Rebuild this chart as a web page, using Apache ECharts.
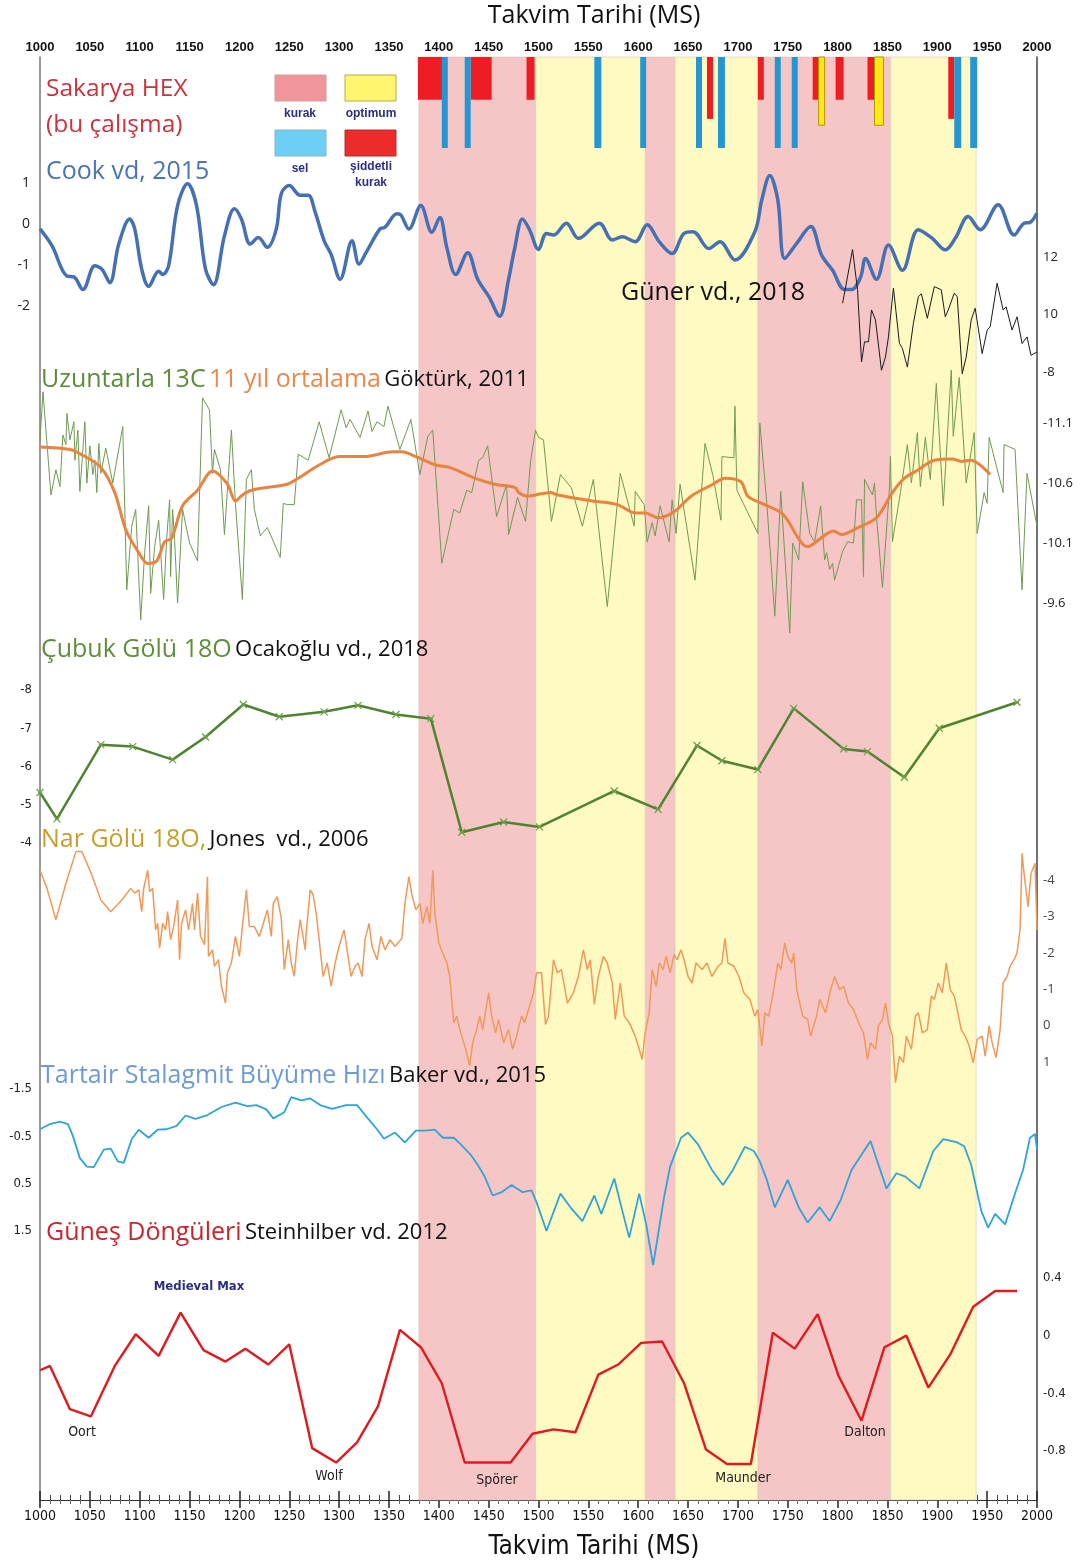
<!DOCTYPE html>
<html>
<head>
<meta charset="utf-8">
<title>Sakarya HEX</title>
<script src="https://cdn.jsdelivr.net/npm/echarts@6/dist/echarts.min.js"></script>
<style>
  html, body { margin: 0; padding: 0; background: #fff; }
  #chart { width: 1086px; height: 1565px; }
</style>
</head>
<body>
<div id="chart"></div>
<script>
// --- bantlar (kurak / optimum donemler) ---
var dryBands = [[1380, 1497], [1607, 1637], [1720, 1853]];
var optimumBands = [[1497, 1607], [1637, 1720], [1853, 1939]];

// --- Sakarya HEX olaylari: [baslangic, bitis, uzunluk] ---
var hexSevere = [[1379, 1404, 47], [1432, 1453, 47], [1488, 1496, 47], [1669, 1675, 68], [1720, 1726, 47],
  [1775, 1781, 47], [1798, 1806, 47], [1830, 1837, 47], [1911, 1917, 68]];
var hexOptimum = [[1781, 1787, 75], [1837, 1846, 75]];
var hexFlood = [[1403, 1409, 100], [1426, 1432, 100], [1556, 1563, 100], [1602, 1608, 100], [1658, 1664, 100],
  [1680, 1687, 100], [1737, 1743, 100], [1754, 1760, 100], [1917, 1924, 100], [1933, 1940, 100]];

// --- Cook vd, 2015 ---
var cookData = [[1000,-0.12],[1012,-0.53],[1027,-1.27],[1034,-1.29],[1043,-1.6],[1055,-1.02],[1062,-1.1],[1070,-1.43],
  [1079,-0.49],[1090,0.12],[1095,-0.12],[1102,-1.1],[1109,-1.52],[1119,-1.15],[1123,-1.23],[1129,-1.02],[1138,0.45],
  [1148,0.98],[1157,0.45],[1166,-1.1],[1174,-1.48],[1185,-0.29],[1195,0.37],[1202,0.12],[1211,-0.49],[1219,-0.33],
  [1228,-0.57],[1237,-0.12],[1242,0.74],[1250,0.94],[1261,0.7],[1269,0.7],[1276,0.29],[1285,-0.41],[1292,-0.74],
  [1301,-1.35],[1313,-0.41],[1320,-0.98],[1327,-0.7],[1341,-0.12],[1346,-0.08],[1358,0.25],[1362,0.22],[1370,-0.12],
  [1382,0.45],[1393,-0.2],[1401,0.16],[1408,-0.57],[1417,-1.23],[1429,-0.7],[1439,-1.35],[1450,-1.76],[1461,-2.25],
  [1470,-1.35],[1476,-0.61],[1484,0.12],[1491,-0.14],[1500,-0.62],[1508,-0.23],[1515,-0.27],[1528,0.02],[1540,-0.35],
  [1561,0.02],[1574,-0.39],[1584,-0.31],[1597,-0.43],[1609,-0.02],[1621,-0.43],[1634,-0.72],[1646,-0.23],[1655,-0.19],
  [1671,-0.6],[1682,-0.43],[1697,-0.88],[1717,-0.19],[1724,0.59],[1732,1.18],[1740,0.59],[1747,-0.84],[1759,-0.47],
  [1773,-0.06],[1784,-0.76],[1795,-1.13],[1807,-1.6],[1814,-1.6],[1823,-1.3],[1828,-0.84],[1839,-1.35],[1851,-0.51],
  [1865,-1.13],[1881,-0.14],[1895,-0.35],[1908,-0.63],[1918,-0.35],[1931,0.18],[1943,-0.14],[1961,0.47],[1977,-0.27],
  [1987,0.02],[1993,0.04],[2000,0.27]];

// --- Guner vd., 2018 ---
var gunerData = [[1805,10.39],[1815,12.26],[1820,10.86],[1824,8.35],[1827,9.05],[1831,9.05],[1834,10.16],[1838,9.81],
  [1844,8.06],[1848,8.52],[1851,9.22],[1856,10.92],[1862,9.0],[1865,8.82],[1870,8.17],[1876,9.69],[1881,10.62],
  [1884,10.72],[1890,9.87],[1897,10.97],[1904,10.86],[1908,9.92],[1911,10.16],[1917,10.74],[1920,10.62],[1925,7.94],
  [1929,8.52],[1934,9.81],[1938,10.22],[1945,8.64],[1950,9.46],[1953,9.57],[1960,11.09],[1966,10.16],[1969,10.27],
  [1975,9.46],[1980,9.92],[1985,8.99],[1990,9.22],[1994,8.58],[2000,8.7]];
var gunerTicks = [8, 10, 12];

// --- Uzuntarla 13C (Gokturk, 2011) ---
var uzunData = [[1000,-10.96],[1003,-11.36],[1011,-10.50],[1016,-10.71],[1020,-10.57],[1023,-11.0],[1026,-10.92],
  [1027,-11.18],[1030,-10.96],[1034,-11.11],[1035,-10.79],[1038,-11.04],[1040,-10.53],[1045,-11.11],[1047,-10.6],
  [1050,-10.91],[1053,-10.67],[1055,-10.79],[1057,-10.52],[1059,-10.93],[1061,-10.68],[1066,-10.89],[1073,-10.6],
  [1083,-11.07],[1087,-9.71],[1092,-10.24],[1096,-10.38],[1101,-9.46],[1105,-10.02],[1109,-10.41],[1111,-9.68],
  [1115,-10.07],[1119,-10.29],[1124,-9.63],[1127,-10.13],[1130,-10.46],[1131,-9.82],[1133,-10.38],[1135,-10.13],
  [1138,-9.6],[1143,-10.38],[1150,-10.1],[1158,-9.95],[1163,-11.31],[1170,-11.21],[1173,-10.68],[1175,-10.88],
  [1181,-10.71],[1185,-10.17],[1192,-11.04],[1196,-10.43],[1203,-9.63],[1207,-10.63],[1212,-10.71],[1215,-10.38],
  [1221,-10.16],[1228,-10.23],[1241,-9.98],[1244,-10.43],[1248,-10.42],[1255,-10.42],[1259,-10.84],[1269,-10.79],
  [1280,-11.11],[1290,-10.81],[1302,-11.21],[1307,-11.06],[1311,-11.13],[1321,-10.98],[1329,-11.2],[1333,-11.03],
  [1338,-11.11],[1345,-11.07],[1349,-11.24],[1361,-10.88],[1372,-11.13],[1381,-10.67],[1389,-10.99],[1394,-11.04],
  [1403,-9.93],[1415,-10.38],[1421,-10.35],[1428,-10.54],[1433,-10.52],[1440,-10.79],[1444,-10.81],[1449,-10.91],
  [1458,-10.32],[1468,-10.59],[1470,-10.17],[1479,-10.48],[1487,-10.28],[1492,-10.78],[1497,-11.04],[1500,-10.98],
  [1505,-10.96],[1513,-10.28],[1522,-10.67],[1533,-10.56],[1544,-10.24],[1555,-10.63],[1569,-9.57],[1582,-10.68],
  [1596,-10.24],[1597,-10.53],[1606,-10.42],[1609,-10.11],[1614,-10.27],[1617,-10.16],[1622,-10.41],[1631,-10.11],
  [1634,-10.46],[1638,-10.18],[1642,-10.59],[1657,-9.79],[1667,-10.93],[1675,-10.66],[1683,-10.29],[1684,-10.82],
  [1696,-10.81],[1697,-11.24],[1699,-10.54],[1720,-10.18],[1722,-11.1],[1729,-10.43],[1737,-9.49],[1743,-10.53],
  [1752,-9.35],[1755,-10.1],[1761,-9.96],[1765,-10.61],[1772,-10.18],[1777,-10.11],[1783,-10.41],[1787,-9.96],
  [1789,-10.02],[1792,-9.88],[1795,-9.93],[1797,-9.79],[1805,-10.03],[1810,-10.11],[1816,-10.1],[1819,-10.46],
  [1824,-10.46],[1826,-9.82],[1827,-10.63],[1835,-10.5],[1837,-10.6],[1839,-10.32],[1845,-9.73],[1852,-10.56],
  [1853,-10.82],[1855,-10.11],[1863,-10.52],[1870,-10.92],[1874,-10.6],[1880,-11.02],[1883,-10.57],[1888,-10.98],
  [1893,-10.63],[1899,-11.43],[1906,-10.41],[1914,-11.54],[1916,-10.99],[1922,-11.48],[1929,-10.6],[1937,-11.02],
  [1940,-10.18],[1947,-10.52],[1950,-10.43],[1952,-10.98],[1966,-10.52],[1967,-10.92],[1978,-10.88],[1985,-9.71],
  [1990,-10.68],[2000,-10.24]];
var uzunMean = [[1000,-10.90],[1030,-10.88],[1041,-10.84],[1061,-10.73],[1075,-10.52],[1086,-10.21],[1099,-10.02],
  [1108,-9.93],[1117,-9.95],[1125,-10.11],[1132,-10.14],[1143,-10.41],[1158,-10.54],[1173,-10.70],[1188,-10.59],
  [1196,-10.45],[1203,-10.5],[1212,-10.54],[1248,-10.59],[1259,-10.64],[1280,-10.75],[1300,-10.82],[1325,-10.82],
  [1354,-10.86],[1363,-10.86],[1377,-10.82],[1397,-10.75],[1411,-10.73],[1436,-10.64],[1456,-10.59],[1477,-10.56],
  [1480,-10.52],[1489,-10.49],[1503,-10.51],[1512,-10.52],[1519,-10.5],[1554,-10.45],[1579,-10.42],[1597,-10.35],
  [1607,-10.35],[1620,-10.31],[1636,-10.36],[1653,-10.49],[1675,-10.59],[1687,-10.64],[1703,-10.61],[1710,-10.49],
  [1724,-10.43],[1745,-10.34],[1770,-10.07],[1788,-10.17],[1796,-10.2],[1804,-10.17],[1821,-10.23],[1839,-10.31],
  [1855,-10.52],[1867,-10.64],[1879,-10.7],[1897,-10.79],[1915,-10.8],[1924,-10.78],[1934,-10.79],[1953,-10.67]];
var uzunTicks = [-11.1, -10.6, -10.1, -9.6];

// --- Cubuk Golu 18O (Ocakoglu vd., 2018) ---
var cubukData = [[1000,-5.32],[1017,-4.63],[1061,-6.57],[1093,-6.52],[1133,-6.18],[1166,-6.77],[1204,-7.62],
  [1240,-7.30],[1285,-7.43],[1319,-7.60],[1357,-7.36],[1392,-7.25],[1423,-4.28],[1465,-4.55],[1501,-4.42],
  [1576,-5.36],[1620,-4.88],[1659,-6.55],[1684,-6.15],[1720,-5.92],[1756,-7.52],[1806,-6.46],[1830,-6.39],
  [1867,-5.72],[1902,-7.0],[1980,-7.68]];

// --- Nar Golu 18O (Jones vd., 2006) ---
var narData = [[1000,-4.27],[1007,-3.77],[1016,-2.91],[1026,-3.91],[1036,-4.78],[1042,-4.78],[1052,-4.14],[1061,-3.45],
  [1071,-3.13],[1082,-3.45],[1091,-3.77],[1095,-3.64],[1099,-3.73],[1102,-3.13],[1104,-3.77],[1108,-4.27],[1110,-3.68],
  [1113,-3.77],[1116,-2.63],[1118,-2.81],[1120,-2.13],[1123,-2.81],[1126,-2.63],[1128,-3.13],[1131,-2.36],[1134,-2.72],
  [1138,-3.45],[1140,-1.81],[1142,-2.81],[1146,-3.18],[1149,-2.63],[1153,-3.36],[1155,-2.63],[1158,-3.64],[1161,-2.45],
  [1165,-2.22],[1168,-4.09],[1169,-1.90],[1173,-2.08],[1175,-1.63],[1179,-1.81],[1182,-1.08],[1186,-0.62],[1188,-1.45],
  [1192,-1.72],[1196,-2.45],[1200,-1.90],[1203,-2.72],[1207,-3.73],[1210,-2.72],[1215,-2.72],[1220,-2.45],[1224,-2.81],
  [1228,-3.18],[1232,-2.45],[1234,-3.36],[1238,-3.54],[1242,-2.95],[1245,-1.54],[1249,-2.36],[1252,-1.72],[1255,-1.35],
  [1258,-2.27],[1261,-2.91],[1266,-2.08],[1267,-2.54],[1271,-3.73],[1274,-3.59],[1277,-3.09],[1280,-2.36],[1284,-1.35],
  [1288,-1.72],[1292,-1.08],[1296,-1.72],[1300,-2.18],[1305,-2.63],[1308,-2.08],[1312,-1.35],[1316,-1.63],[1319,-1.72],
  [1323,-1.35],[1326,-2.36],[1330,-2.81],[1333,-2.18],[1338,-1.81],[1342,-2.45],[1346,-2.08],[1351,-2.36],[1356,-2.18],
  [1359,-2.27],[1363,-2.40],[1366,-3.36],[1370,-4.09],[1373,-3.59],[1377,-3.18],[1381,-3.36],[1384,-2.81],[1388,-3.27],
  [1391,-2.81],[1394,-4.27],[1396,-3.09],[1400,-2.27],[1404,-1.99],[1408,-1.72],[1411,-1.35],[1415,-0.08],[1418,-0.26],
  [1422,0.20],[1427,0.65],[1431,1.11],[1434,0.47],[1438,0.11],[1441,-0.26],[1444,0.11],[1450,-0.90],[1453,-0.26],
  [1457,0.20],[1460,-0.17],[1465,0.47],[1470,0.11],[1474,0.65],[1478,0.29],[1483,-0.26],[1486,-0.08],[1490,-0.44],
  [1495,-0.90],[1498,-1.45],[1503,-1.45],[1507,-0.03],[1510,-0.26],[1515,-1.81],[1519,-1.45],[1523,-1.54],[1526,-1.08],
  [1529,-0.62],[1535,-0.90],[1540,-1.35],[1545,-2.08],[1549,-1.54],[1552,-1.81],[1556,-0.58],[1560,-1.35],[1565,-1.90],
  [1569,-1.72],[1574,-1.17],[1577,-0.17],[1582,-1.17],[1586,-0.26],[1591,-0.08],[1597,0.29],[1601,0.65],[1604,0.93],
  [1607,0.20],[1611,-0.35],[1614,-1.54],[1618,-1.08],[1621,-1.72],[1625,-1.54],[1628,-1.90],[1632,-1.45],[1636,-1.95],
  [1639,-1.81],[1643,-2.08],[1646,-1.81],[1650,-1.35],[1654,-1.17],[1658,-1.72],[1664,-1.54],[1669,-1.72],[1674,-1.35],
  [1680,-1.63],[1684,-1.72],[1687,-2.40],[1690,-1.72],[1696,-1.63],[1701,-1.35],[1706,-0.90],[1712,-0.72],[1717,-0.26],
  [1720,-0.44],[1724,0.56],[1727,-0.35],[1731,-0.26],[1736,-0.99],[1740,-1.72],[1743,-1.54],[1747,-2.27],[1750,-1.90],
  [1754,-1.72],[1756,-1.99],[1759,-0.99],[1765,-0.26],[1770,-0.17],[1773,0.29],[1779,-0.26],[1782,-0.72],[1788,-0.35],
  [1793,-0.99],[1797,-1.35],[1802,-0.99],[1806,-1.08],[1811,-0.62],[1816,-0.44],[1821,-0.08],[1826,0.20],[1830,0.93],
  [1833,0.47],[1838,0.65],[1841,0.01],[1845,-0.17],[1848,-0.62],[1851,-0.08],[1855,0.29],[1858,1.57],[1862,0.84],
  [1866,1.02],[1869,0.29],[1874,0.65],[1878,-0.26],[1881,-0.35],[1885,0.20],[1890,0.11],[1894,-0.81],[1897,-0.72],
  [1901,-1.17],[1905,-0.90],[1909,-1.72],[1913,-0.99],[1917,-0.81],[1920,-0.44],[1924,0.11],[1928,0.29],[1932,0.56],
  [1936,1.02],[1940,0.38],[1945,0.29],[1948,0.84],[1952,0.01],[1955,0.47],[1959,0.88],[1963,0.11],[1966,-1.17],
  [1970,-1.35],[1973,-1.63],[1977,-1.81],[1980,-2.00],[1983,-2.63],[1985,-4.73],[1987,-4.18],[1991,-3.27],[1994,-4.18],
  [1998,-4.46],[2000,-2.63]];

// --- Tartair stalagmit (Baker vd., 2015) ---
var tartairData = [[1000,-0.65],[1010,-0.76],[1020,-0.81],[1028,-0.76],[1033,-0.51],[1040,-0.04],[1047,0.14],[1054,0.15],
  [1064,-0.22],[1071,-0.24],[1078,0.03],[1084,0.06],[1092,-0.44],[1099,-0.64],[1109,-0.47],[1118,-0.64],[1127,-0.65],
  [1137,-0.72],[1146,-0.94],[1156,-0.87],[1168,-0.95],[1182,-1.12],[1196,-1.21],[1208,-1.14],[1217,-1.16],[1227,-1.07],
  [1234,-0.88],[1245,-1.01],[1252,-1.33],[1262,-1.26],[1271,-1.30],[1281,-1.16],[1293,-1.08],[1307,-1.16],[1318,-1.16],
  [1328,-0.90],[1338,-0.65],[1345,-0.45],[1356,-0.58],[1366,-0.37],[1377,-0.62],[1387,-0.62],[1396,-0.64],[1404,-0.47],
  [1415,-0.47],[1422,-0.33],[1432,-0.11],[1439,0.10],[1446,0.35],[1454,0.75],[1463,0.68],[1473,0.53],[1484,0.68],
  [1493,0.64],[1498,0.89],[1508,1.50],[1522,0.71],[1532,1.0],[1544,1.29],[1556,0.75],[1563,1.14],[1576,0.39],[1584,1.07],
  [1591,1.64],[1601,0.71],[1608,1.36],[1615,2.22],[1626,0.78],[1632,0.14],[1643,-0.47],[1650,-0.58],[1660,-0.33],
  [1674,0.21],[1685,0.53],[1695,0.21],[1707,-0.28],[1716,-0.19],[1722,0.03],[1729,0.42],[1737,1.0],[1750,0.42],[1761,1.0],
  [1770,1.32],[1782,1.0],[1792,1.29],[1803,0.85],[1814,0.21],[1833,-0.40],[1841,0.10],[1849,0.60],[1859,0.28],[1868,0.35],
  [1882,0.60],[1896,-0.19],[1906,-0.44],[1920,-0.37],[1927,-0.29],[1934,0.10],[1944,1.07],[1951,1.43],[1958,1.14],
  [1968,1.36],[1979,0.64],[1986,0.21],[1993,-0.47],[1998,-0.55],[2000,-0.22]];
var tartairTicks = [-1.5, -0.5, 0.5, 1.5];

// --- Gunes donguleri (Steinhilber vd. 2012) ---
var solarData = [[1000,-0.24],[1010,-0.21],[1030,-0.51],[1051,-0.56],[1075,-0.21],[1096,0.01],[1119,-0.14],[1141,0.16],
  [1164,-0.10],[1186,-0.18],[1206,-0.09],[1229,-0.20],[1250,-0.06],[1273,-0.78],[1297,-0.88],[1318,-0.74],[1339,-0.49],
  [1361,0.04],[1382,-0.08],[1403,-0.33],[1426,-0.88],[1472,-0.88],[1494,-0.68],[1515,-0.65],[1537,-0.67],[1560,-0.27],
  [1580,-0.20],[1603,-0.05],[1624,-0.04],[1646,-0.33],[1668,-0.79],[1689,-0.89],[1713,-0.89],[1735,0.02],[1757,-0.09],
  [1780,0.15],[1801,-0.28],[1824,-0.59],[1847,-0.08],[1869,0],[1891,-0.36],[1913,-0.13],[1936,0.20],[1958,0.31],[1980,0.31]];

// minimumlar
var solarMinima = [['Oort', 82, 1432], ['Wolf', 329, 1476], ['Sp\u00f6rer', 497, 1480], ['Maunder', 743, 1478], ['Dalton', 865, 1432]];

var chart = echarts.init(document.getElementById('chart'));

var LEFT = 40, RIGHT = 49;
var fontBody = '"Open Sans", "Noto Sans", sans-serif';
var fontAxis = '"Liberation Sans", Arial, sans-serif';
var fontNarrow = '"Liberation Sans Narrow", "DejaVu Sans Condensed", Arial, sans-serif';

// panel yerlesimi: [top, height]
var panels = [
  [57, 1443],   // 0 cerceve
  [57, 91],     // 1 HEX
  [183, 123],   // 2 Cook
  [257, 115],   // 3 Guner
  [423, 180],   // 4 Uzuntarla
  [690, 153],   // 5 Cubuk
  [880, 182],   // 6 Nar
  [1089, 142],  // 7 Tartair
  [1278, 173]   // 8 Gunes
];

var grid = panels.map(function (p) {
  return { left: LEFT, right: RIGHT, top: p[0], height: p[1] };
});

function hiddenX (gi) {
  return { type: 'value', gridIndex: gi, min: 1000, max: 2000, show: false };
}
function yearLabel (v) { return String(v); }

var xAxis = [
  {
    type: 'value', gridIndex: 0, position: 'top', min: 1000, max: 2000, interval: 50,
    axisLine: { show: false },
    axisTick: { show: true, inside: true, length: 8, lineStyle: { color: '#222', width: 1.5 } },
    minorTick: { show: true, splitNumber: 5, length: 4, lineStyle: { color: '#666' } },
    splitLine: { show: false },
    axisLabel: { fontFamily: fontAxis, fontWeight: 'bold', fontSize: 13, color: '#111', margin: 3, formatter: yearLabel }
  },
  {
    type: 'value', gridIndex: 0, position: 'bottom', min: 1000, max: 2000, interval: 50,
    axisLine: { show: true, lineStyle: { color: '#333', width: 1 } },
    axisTick: { show: true, inside: true, length: 9, lineStyle: { color: '#222', width: 1.5 } },
    minorTick: { show: true, splitNumber: 5, length: 5, lineStyle: { color: '#444' } },
    splitLine: { show: false },
    axisLabel: { fontFamily: fontNarrow, fontSize: 14, color: '#111', margin: 9, formatter: yearLabel }
  }
];
for (var g = 1; g < panels.length; g++) xAxis.push(hiddenX(g));

function panelY (gi, pos, cfg) {
  var base = {
    type: 'value', gridIndex: gi, position: pos, scale: true,
    axisLine: { show: false }, axisTick: { show: false }, splitLine: { show: false },
    axisLabel: { fontFamily: fontBody, fontSize: 13, color: '#222', margin: 6 }
  };
  for (var k in cfg) {
    if (k === 'axisLabel') {
      for (var j in cfg.axisLabel) base.axisLabel[j] = cfg.axisLabel[j];
    } else base[k] = cfg[k];
  }
  return base;
}

var yAxis = [
  { type: 'value', gridIndex: 0, position: 'left', min: 0, max: 1, axisLabel: { show: false },
    axisTick: { show: false }, splitLine: { show: false },
    axisLine: { show: true, lineStyle: { color: '#777', width: 1.5 } } },
  { type: 'value', gridIndex: 0, position: 'right', min: 0, max: 1, axisLabel: { show: false },
    axisTick: { show: false }, splitLine: { show: false },
    axisLine: { show: true, lineStyle: { color: '#444', width: 1.5 } } },
  panelY(1, 'left', { min: 0, max: 100, inverse: true, show: false }),
  panelY(2, 'left', { min: -2, max: 1, interval: 1, axisLabel: { fontSize: 14, margin: 10 } }),
  panelY(3, 'right', { min: 8, max: 12, axisLabel: { customValues: gunerTicks,
    formatter: function (v) { return v === 8 ? '-8' : String(v); } } }),
  panelY(4, 'right', { min: -11.1, max: -9.6, inverse: true,
    axisLabel: { customValues: uzunTicks, formatter: function (v) { return v.toFixed(1); } } }),
  panelY(5, 'left', { min: -8, max: -4, interval: 1, inverse: true, axisLabel: { fontFamily: fontNarrow, margin: 8 } }),
  panelY(6, 'right', { min: -4, max: 1, interval: 1, inverse: true, axisLabel: { color: '#444' } }),
  panelY(7, 'left', { min: -1.5, max: 1.5, inverse: true,
    axisLabel: { customValues: tartairTicks, fontFamily: fontNarrow, margin: 8,
      formatter: function (v) { return v.toFixed(1); } } }),
  panelY(8, 'right', { min: -0.8, max: 0.4, interval: 0.4, axisLabel: { fontFamily: fontNarrow } })
];

function bandAreas (bands, color) {
  return bands.map(function (b) {
    return [{ xAxis: b[0], itemStyle: { color: color, borderColor: '#d8c8b8', borderWidth: 0.6 } }, { xAxis: b[1] }];
  });
}

function hexBar (params, api) {
  var a = api.coord([api.value(0), 0]);
  var b = api.coord([api.value(1), api.value(2)]);
  return {
    type: 'rect',
    shape: { x: a[0], y: a[1], width: b[0] - a[0], height: b[1] - a[1] },
    style: api.style()
  };
}

function hexSeries (data, style) {
  return {
    type: 'custom', xAxisIndex: 2, yAxisIndex: 2, renderItem: hexBar,
    encode: { x: [0, 1], y: 2 }, itemStyle: style, data: data, z: 3
  };
}

function lineSeries (idx, data, color, width, extra) {
  var s = {
    type: 'line', xAxisIndex: idx, yAxisIndex: idx, data: data, showSymbol: false, symbol: 'none',
    clip: false, lineStyle: { color: color, width: width }, itemStyle: { color: color }, z: 4,
    animation: false
  };
  for (var k in extra) s[k] = extra[k];
  return s;
}

var series = [];
series.push({
  type: 'line', xAxisIndex: 0, yAxisIndex: 0, data: [[1000, 0]], symbol: 'none',
  lineStyle: { opacity: 0 }, silent: true, z: 1,
  markArea: { silent: true, data: bandAreas(dryBands, '#f6c6c7').concat(bandAreas(optimumBands, '#fefac2')) }
});
series.push(hexSeries(hexSevere, { color: '#ee1d23' }));
series.push(hexSeries(hexOptimum, { color: '#ffe81a', borderColor: '#b39500', borderWidth: 1 }));
series.push(hexSeries(hexFlood, { color: '#2596d1' }));
series.push(lineSeries(3, cookData, '#4570b4', 3.5, { smooth: 0.35 }));
series.push(lineSeries(4, gunerData, '#1a1a1a', 1, {}));
series.push(lineSeries(5, uzunData, '#6f9a52', 1, {}));
series.push(lineSeries(5, uzunMean, '#e8843f', 3, { smooth: 0.3 }));
series.push(lineSeries(6, cubukData, '#4f8330', 2.5, {
  showSymbol: true, symbol: 'path://M0,0 L10,10 M10,0 L0,10 M2,5 L8,5', symbolSize: 7,
  itemStyle: { color: 'rgba(0,0,0,0)', borderColor: '#6aa047', borderWidth: 1.2 }
}));
var narIndex = series.length;
series.push(lineSeries(7, narData, '#ef9a5a', 1.5, {}));
series.push(lineSeries(8, tartairData, '#2ea4d9', 1.8, {}));
series.push(lineSeries(9, solarData, '#e01b1f', 2.4, {}));

var narColors = { white: '#f0a46c', dry: '#ea7a3a', opt: '#f0a52c' };
var narPieces = [{ lt: dryBands[0][0], color: narColors.white }];
dryBands.forEach(function (b) { narPieces.push({ gte: b[0], lt: b[1], color: narColors.dry }); });
optimumBands.forEach(function (b) { narPieces.push({ gte: b[0], lt: b[1], color: narColors.opt }); });
narPieces.push({ gte: optimumBands[optimumBands.length - 1][1], color: narColors.white });

// --- metinler ---
function txt (x, y, text, size, color, extra) {
  var st = { text: text, fontSize: size, fill: color, fontFamily: fontBody, align: 'left', verticalAlign: 'middle' };
  for (var k in extra) st[k] = extra[k];
  return { type: 'text', x: x, y: y, style: st, z: 20 };
}
function rich (x, y, parts) {
  var text = parts.map(function (p, i) { return '{p' + i + '|' + p[0] + '}'; }).join(' ');
  var r = {};
  parts.forEach(function (p, i) {
    r['p' + i] = { fill: p[1], fontSize: p[2], fontFamily: fontBody };
  });
  return { type: 'text', x: x, y: y, style: { text: text, rich: r, verticalAlign: 'middle', align: 'left' }, z: 20 };
}
function box (x, y, fill, stroke) {
  return { type: 'rect', shape: { x: x, y: y, width: 51, height: 26 }, style: { fill: fill, stroke: stroke, lineWidth: 1 }, z: 20 };
}
var legendFont = { fontFamily: fontAxis, fontWeight: 'bold', align: 'center' };

var graphic = [
  txt(594, 16, 'Takvim Tarihi (MS)', 25, '#111', { align: 'center' }),
  txt(594, 1547, 'Takvim Tarihi (MS)', 26, '#111', { align: 'center', fontFamily: fontNarrow }),
  txt(46, 89, 'Sakarya HEX', 24.5, '#c9333d'),
  txt(46, 125, '(bu \u00e7al\u0131\u015fma)', 24.5, '#c9333d'),
  txt(46, 172, 'Cook vd, 2015', 25, '#4a74b8'),
  txt(621, 293, 'G\u00fcner vd., 2018', 25, '#111'),
  rich(41, 380, [['Uzuntarla 13C', '#5e8c3c', 25], ['11 y\u0131l ortalama', '#e88a4c', 25], ['G\u00f6kt\u00fcrk, 2011', '#111', 22]]),
  rich(41, 650, [['\u00c7ubuk G\u00f6l\u00fc 18O', '#5e8f3b', 25], ['Ocako\u011flu vd., 2018', '#111', 22]]),
  rich(41, 840, [['Nar G\u00f6l\u00fc 18O,', '#c6a02c', 25], ['Jones  vd., 2006', '#111', 22]]),
  rich(41, 1076, [['Tartair Stalagmit B\u00fcy\u00fcme H\u0131z\u0131', '#6e9ad6', 25], ['Baker vd., 2015', '#111', 22]]),
  rich(46, 1233, [['G\u00fcne\u015f D\u00f6ng\u00fcleri', '#c8252d', 25], ['Steinhilber vd. 2012', '#111', 22]]),
  box(275, 75, '#f2959b', '#c9a0a0'),
  box(345, 75, '#fff56e', '#b8a84a'),
  box(275, 130, '#6dcff6', '#8ab4c4'),
  box(345, 130, '#ee2b2b', '#a33'),
  txt(300, 114, 'kurak', 12, '#2b2e83', legendFont),
  txt(371, 114, 'optimum', 12, '#2b2e83', legendFont),
  txt(300, 169, 'sel', 12, '#2b2e83', legendFont),
  txt(371, 167, '\u015fiddetli', 12, '#2b2e83', legendFont),
  txt(371, 183, 'kurak', 12, '#2b2e83', legendFont),
  txt(199, 1287, 'Medieval Max', 13, '#2b2e83', { fontFamily: fontNarrow, fontWeight: 'bold', align: 'center' })
];
solarMinima.forEach(function (m) {
  graphic.push(txt(m[1], m[2], m[0], 14, '#222', { fontFamily: fontNarrow, align: 'center' }));
});

chart.setOption({
  backgroundColor: '#fff',
  animation: false,
  grid: grid,
  xAxis: xAxis,
  yAxis: yAxis,
  visualMap: [{
    type: 'piecewise', show: false, dimension: 0, seriesIndex: narIndex, pieces: narPieces
  }],
  series: series,
  graphic: graphic
});
</script>
</body>
</html>
